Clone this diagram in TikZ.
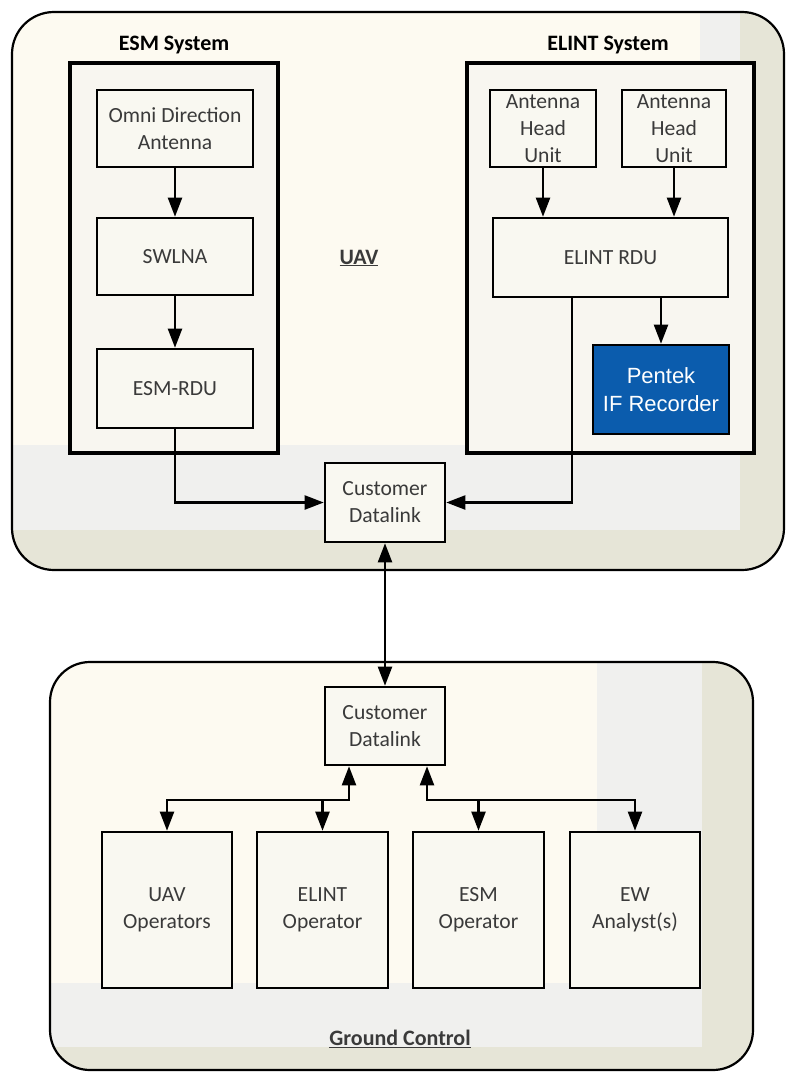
\documentclass[tikz,border=0pt]{standalone}
\usepackage{fontspec}
\setmainfont{Carlito}
\newfontfamily\arialfont{Liberation Sans}
\usetikzlibrary{arrows.meta}
\definecolor{bgcream}{HTML}{FDFAF1}
\definecolor{bggray}{HTML}{F0F0EE}
\definecolor{bgbeige}{HTML}{E6E5D7}
\definecolor{boxfill}{HTML}{F9F8F1}
\definecolor{txt}{HTML}{3A3A3A}
\definecolor{pentekblue}{HTML}{0B5CAD}
\begin{document}
\begin{tikzpicture}[x=1pt,y=-1pt,
  blk/.style={draw=black, line width=2.6pt, fill=boxfill, text=txt, align=center,
    font=\fontsize{21.6}{27}\selectfont, inner sep=2pt},
  sysbox/.style={draw=black, line width=4.5pt},
  arr/.style={line width=2.2pt, -{Triangle[length=19pt,width=14pt]}},
  darr/.style={line width=2.2pt, {Triangle[length=19pt,width=14pt]}-{Triangle[length=19pt,width=14pt]}},
  title/.style={font=\fontsize{22}{26}\selectfont\bfseries, text=black},
  area/.style={draw=black, line width=2.2pt, rounded corners=42pt}]
\useasboundingbox (0,0) rectangle (786,1073);
\fill[white] (0,0) rectangle (786,1073);
% UAV area background
\begin{scope}
  \clip[rounded corners=42pt] (12,12) rectangle (784,570);
  \fill[bgbeige] (12,12) rectangle (784,570);
  \fill[bggray] (12,12) rectangle (740,530);
  \fill[bgcream] (12,12) rectangle (700,445);
\end{scope}
\draw[area] (12,12) rectangle (784,570);
% Ground area background
\begin{scope}
  \clip[rounded corners=40pt] (50,662) rectangle (753,1070);
  \fill[bgbeige] (50,662) rectangle (753,1070);
  \fill[bggray] (50,662) rectangle (702,1047);
  \fill[bgcream] (50,662) rectangle (597,983);
\end{scope}
\draw[area, rounded corners=40pt] (50,662) rectangle (753,1070);
% System boxes
\node[sysbox, minimum width=208pt, minimum height=390pt, fill=bgcream!60!bggray] (esmsys) at (174,258) {};
\node[sysbox, minimum width=287pt, minimum height=390pt, fill=bgcream!60!bggray] (elintsys) at (610.5,258) {};
\node[title] (esmtitle) at (174,45) {ESM System};
\node[title] (elinttitle) at (608,45) {ELINT System};
\node[title, text=txt] (uavlbl) at (359,258) {\underline{UAV}};
\node[title, text=txt] (gclbl) at (400,1039) {\underline{Ground Control}};
% ESM chain
\node[blk, minimum width=156pt, minimum height=77pt] (omni) at (175,128.5) {Omni Direction\\Antenna};
\node[blk, minimum width=156pt, minimum height=77pt] (swlna) at (175,256.5) {SWLNA};
\node[blk, minimum width=156pt, minimum height=79pt] (esmrdu) at (175,388.5) {ESM-RDU};
% ELINT chain
\node[blk, minimum width=106pt, minimum height=77pt] (ahua) at (543,128.5) {Antenna\\Head\\Unit};
\node[blk, minimum width=104pt, minimum height=77pt] (ahub) at (674,128.5) {Antenna\\Head\\Unit};
\node[blk, minimum width=235pt, minimum height=79pt] (elintrdu) at (610.5,257.5) {ELINT RDU};
\node[blk, minimum width=136pt, minimum height=89pt, fill=pentekblue, text=white,
  font=\arialfont\fontsize{22}{28}\selectfont] (pentek) at (661,389.5) {Pentek\\IF Recorder};
% Datalinks
\node[blk, minimum width=120pt, minimum height=79pt] (cdla) at (385,502.5) {Customer\\Datalink};
\node[blk, minimum width=120pt, minimum height=78pt] (cdlb) at (385,726) {Customer\\Datalink};
% Operators
\node[blk, minimum width=130pt, minimum height=156pt] (uavop) at (167,910) {UAV\\Operators};
\node[blk, minimum width=131pt, minimum height=156pt] (elintop) at (322.5,910) {ELINT\\Operator};
\node[blk, minimum width=131pt, minimum height=156pt] (esmop) at (478.5,910) {ESM\\Operator};
\node[blk, minimum width=130pt, minimum height=156pt] (ewop) at (635,910) {EW\\Analyst(s)};
% Connectors
\draw[arr] (omni) -- (swlna);
\draw[arr] (swlna) -- (esmrdu);
\draw[arr] (ahua.south) -- (ahua.south |- elintrdu.north);
\draw[arr] (ahub.south) -- (ahub.south |- elintrdu.north);
\draw[arr] (pentek.north |- elintrdu.south) -- (pentek.north);
\draw[arr] (esmrdu.south) |- (cdla.west);
\draw[arr] ([xshift=-38.5pt]elintrdu.south) |- (cdla.east);
\draw[darr] (cdla.south) -- (cdlb.north);
\coordinate (bus) at (0,800);
\draw[darr] ([xshift=-36pt]cdlb.south) -- ([xshift=-36pt]cdlb.south |- bus) -| (uavop.north);
\draw[arr] (elintop.north |- bus) -- (elintop.north);
\draw[darr] ([xshift=42pt]cdlb.south) -- ([xshift=42pt]cdlb.south |- bus) -| (ewop.north);
\draw[arr] (esmop.north |- bus) -- (esmop.north);
\end{tikzpicture}
\end{document}
